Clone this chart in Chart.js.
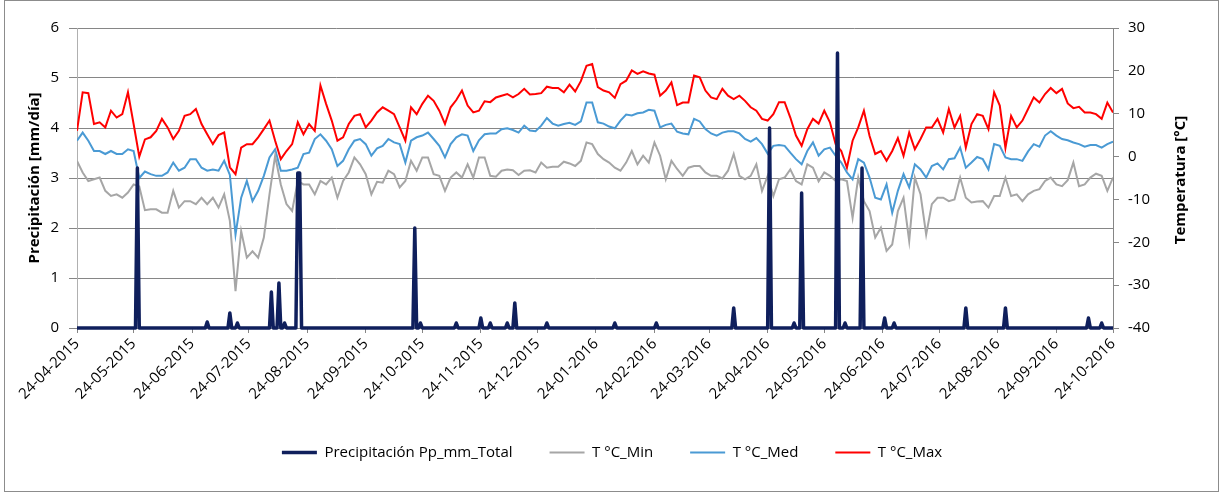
<!DOCTYPE html>
<html>
<head>
<meta charset="utf-8">
<title>Precipitación y temperatura</title>
<script src="https://cdn.jsdelivr.net/npm/chart.js@4.4.1/dist/chart.umd.min.js"></script>
<style>
  html, body { margin: 0; padding: 0; background: #fff; }
  #wrap { position: relative; width: 1224px; height: 494px; }
  #frame { position: absolute; left: 4px; top: 0; width: 1215px; height: 492px; border: 1px solid #8c8c8c; box-sizing: border-box; pointer-events: none; }
</style>
</head>
<body>
<div id="wrap">
  <canvas id="chart" width="1224" height="494"></canvas>
  <div id="frame"></div>
</div>
<script>
"use strict";

// x axis: days since 24-04-2015, one tick per month
var monthDays = [0, 30, 61, 91, 122, 153, 183, 214, 244, 275, 306, 335, 366, 396, 427, 457, 488, 519, 549];
var monthLabels = ['24-04-2015', '24-05-2015', '24-06-2015', '24-07-2015', '24-08-2015', '24-09-2015',
    '24-10-2015', '24-11-2015', '24-12-2015', '24-01-2016', '24-02-2016', '24-03-2016', '24-04-2016',
    '24-05-2016', '24-06-2016', '24-07-2016', '24-08-2016', '24-09-2016', '24-10-2016'];
var lastDay = 549;

// Precipitation (mm/day): days with rain, all other days are 0
var rainDays = [32, 69, 81, 85, 103, 107, 110, 117, 118, 179, 182, 201, 214, 219, 228, 232, 249, 285, 307,
    348, 367, 380, 384, 403, 407, 416, 428, 433, 471, 492, 536, 543];
var rainMm = [3.2, 0.12, 0.3, 0.1, 0.72, 0.9, 0.1, 3.1, 3.1, 2.0, 0.1, 0.1, 0.2, 0.1, 0.1, 0.5, 0.1, 0.1, 0.1,
    0.4, 4.0, 0.1, 2.7, 5.5, 0.1, 3.2, 0.2, 0.1, 0.4, 0.4, 0.2, 0.1];

// Temperatures (°C), read every 3 days starting at day 0
var tempStep = 3;
var tMin = [
    -1, -3.7, -5.7, -5.3, -4.9, -8, -9.2, -8.8, -9.6, -8.4,
    -6.5, -7, -12.5, -12.3, -12.3, -13.1, -13.1, -8, -11.9, -10.4,
    -10.4, -11.1, -9.6, -11.1, -9.6, -11.9, -8.8, -15, -31.4, -17.4,
    -23.6, -22.1, -23.6, -18.9, -8.8, 0.2, -6.5, -11.1, -12.7, -5.7,
    -6.5, -6.5, -8.8, -5.7, -6.5, -4.9, -9.6, -5.7, -3.7, -0.2,
    -1.8, -4.1, -8.8, -5.9, -6.1, -3.3, -4.1, -7.2, -5.7, -1,
    -3.3, -0.2, -0.2, -4.1, -4.5, -8, -4.9, -3.7, -4.9, -1.8,
    -4.9, -0.2, -0.2, -4.5, -4.7, -3.3, -3, -3.2, -4.3, -3.3,
    -3.2, -3.7, -1.4, -2.6, -2.4, -2.4, -1.2, -1.6, -2.2, -1,
    3.3, 2.9, 0.6, -0.6, -1.4, -2.6, -3.3, -1.4, 1.3, -1.8,
    0.2, -1.4, 3.3, 0.2, -5.3, -1, -2.9, -4.5, -2.6, -2.2,
    -2.2, -3.7, -4.5, -4.5, -5.1, -3.3, 0.6, -4.5, -5.3, -4.5,
    -1.8, -8, -4.5, -9.2, -5.3, -4.9, -3, -5.7, -6.5, -1.8,
    -2.6, -5.8, -3.7, -4.5, -5.7, -5.3, -5.7, -14.3, -4.9, -10.4,
    -12.7, -18.9, -16.6, -22, -20.5, -12.7, -9.6, -19.7, -4.9, -8.8,
    -18.2, -11.1, -9.6, -9.6, -10.4, -10, -4.9, -9.6, -10.7, -10.5,
    -10.4, -11.9, -9.2, -9.2, -4.9, -9.2, -8.8, -10.4, -8.8, -8,
    -7.6, -5.7, -4.9, -6.5, -6.9, -5.5, -1.4, -6.9, -6.5, -4.9,
    -4, -4.5, -8, -4.9
];
var tMed = [
    3.7, 5.6, 3.7, 1.3, 1.3, 0.6, 1.3, 0.6, 0.6, 1.7,
    1.3, -5, -3.5, -4.1, -4.5, -4.5, -3.7, -1.4, -3.3, -2.6,
    -0.6, -0.6, -2.6, -3.3, -3, -3.3, -1, -4.3, -18.2, -9.6,
    -5.7, -10.4, -8, -4.5, -0.2, 1.7, -3.3, -3.3, -3, -2.6,
    0.6, 0.9, 4.1, 5.2, 3.7, 1.7, -2.2, -1, 1.7, 3.7,
    4.1, 2.9, 0.2, 1.9, 2.5, 4.1, 3.3, 2.9, -1.4, 3.7,
    4.5, 4.9, 5.6, 4.1, 2.5, -0.2, 2.9, 4.5, 5.2, 4.9,
    1.3, 3.8, 5.2, 5.4, 5.4, 6.4, 6.6, 6.2, 5.6, 7.2,
    6.1, 5.9, 7.2, 9, 7.7, 7.2, 7.6, 7.9, 7.4, 8.2,
    12.6, 12.6, 8, 7.7, 7, 6.6, 8.4, 9.8, 9.6, 10.1,
    10.3, 10.9, 10.7, 6.8, 7.4, 7.7, 5.8, 5.4, 5.2, 8.8,
    8.2, 6.4, 5.4, 4.9, 5.6, 5.9, 5.9, 5.4, 4.1, 3.5,
    4.3, 2.9, 0.7, 2.5, 2.7, 2.5, 0.9, -0.6, -1.8, 1.3,
    3.3, 0.2, 1.7, 2.1, 0.2, -1.4, -3.7, -5.3, -0.6, -1.4,
    -4.9, -9.6, -10, -6.5, -13.1, -8, -4.1, -7.2, -1.8, -3,
    -4.9, -2.2, -1.6, -3, -0.6, -0.4, 2.1, -2.6, -1.4, -0.1,
    -0.6, -3, 2.9, 2.5, -0.2, -0.6, -0.6, -1, 1.2, 2.9,
    2.3, 4.9, 5.9, 4.9, 4.1, 3.8, 3.3, 2.9, 2.3, 2.7,
    2.7, 2.1, 2.9, 3.5
];
var tMax = [
    6, 15, 14.8, 7.6, 8, 6.8, 10.7, 9.1, 9.9, 15,
    7.6, 0, 4, 4.5, 6, 8.8, 6.8, 4.1, 6, 9.5,
    9.9, 11.1, 7.6, 5.2, 2.9, 5, 5.6, -2.5, -4.1, 2.1,
    2.9, 2.9, 4.5, 6.4, 8.4, 3.7, -0.6, 1.3, 2.9, 8,
    5.2, 7.6, 6, 16.6, 12.3, 8.4, 3.7, 4.5, 7.6, 9.5,
    9.9, 6.8, 8.4, 10.3, 11.5, 10.7, 9.9, 6.8, 3.7, 11.5,
    9.9, 12.3, 14.2, 13, 10.7, 7.6, 11.5, 13.2, 15.4, 11.9,
    10.3, 10.7, 12.9, 12.7, 13.8, 14.2, 14.6, 13.8, 14.6, 15.8,
    14.5, 14.6, 14.8, 16.3, 16, 16, 15, 16.8, 15.2, 17.6,
    21.2, 21.6, 16.2, 15.4, 15, 13.7, 16.9, 17.7, 20.1, 19.3,
    19.9, 19.4, 19.1, 14.2, 15.4, 17.3, 12, 12.6, 12.6, 18.9,
    18.5, 15.4, 13.8, 13.4, 15.8, 14.2, 13.4, 14.2, 13, 11.5,
    10.7, 8.8, 8.4, 9.9, 12.7, 12.7, 9.1, 4.9, 2.5, 6.4,
    8.8, 7.7, 10.7, 8, 2.9, 1.3, -2.6, 3.7, 6.8, 10.7,
    4.8, 0.6, 1.3, -1, 1.3, 4.3, 0.2, 5.6, 1.7, 4.1,
    6.8, 6.8, 8.8, 5.6, 11.1, 6.8, 9.5, 2.1, 7.6, 9.9,
    9.5, 6.4, 15, 11.9, 2, 9.5, 6.8, 8.4, 11.1, 13.8,
    12.6, 14.6, 16, 14.8, 15.8, 12.4, 11.3, 11.6, 10.3, 10.3,
    9.9, 8.8, 12.6, 10.3
];

var leftTitle = 'Precipitación [mm/día]';
var rightTitle = 'Temperatura [°C]';

var PrecipTempChart = function () {
    var fontFamily = '"Open Sans", "Liberation Sans", sans-serif';
    var gridColor = '#868686';

    var toPoints = function (values) {
        return values.map(function (v, i) {
            return { x: i * tempStep, y: v };
        });
    };

    var rainPoints = function () {
        var pts = [];
        for (var d = 0; d <= lastDay; d++) {
            var k = rainDays.indexOf(d);
            pts.push({ x: d, y: k >= 0 ? rainMm[k] : 0 });
        }
        return pts;
    };

    // Axis titles, both read bottom to top
    var axisTitles = {
        id: 'axisTitles',
        afterDraw: function (chart) {
            var ctx = chart.ctx;
            var area = chart.chartArea;
            var midY = (area.top + area.bottom) / 2;
            ctx.save();
            ctx.font = 'bold 15px ' + fontFamily;
            ctx.fillStyle = '#000';
            ctx.textAlign = 'center';
            ctx.textBaseline = 'middle';
            ctx.translate(35, midY);
            ctx.rotate(-Math.PI / 2);
            ctx.fillText(leftTitle, 0, 0);
            ctx.restore();
            ctx.save();
            ctx.font = 'bold 15px ' + fontFamily;
            ctx.fillStyle = '#000';
            ctx.textAlign = 'center';
            ctx.textBaseline = 'middle';
            ctx.translate(1181, midY + 2);
            ctx.rotate(-Math.PI / 2);
            ctx.fillText(rightTitle, 0, 0);
            ctx.restore();
        }
    };

    var initChart = function () {
        var ctx = document.getElementById('chart').getContext('2d');
        Chart.defaults.font.family = fontFamily;
        Chart.defaults.color = '#000';

        new Chart(ctx, {
            type: 'line',
            data: {
                datasets: [{
                    label: 'Precipitación Pp_mm_Total',
                    data: rainPoints(),
                    yAxisID: 'y',
                    borderColor: '#0f1f5c',
                    backgroundColor: '#0f1f5c',
                    borderWidth: 3.5,
                    borderJoinStyle: 'round',
                    pointRadius: 0,
                    clip: false
                }, {
                    label: 'T °C_Min',
                    data: toPoints(tMin),
                    yAxisID: 'y1',
                    borderColor: '#a6a6a6',
                    backgroundColor: '#a6a6a6',
                    borderWidth: 2,
                    pointRadius: 0
                }, {
                    label: 'T °C_Med',
                    data: toPoints(tMed),
                    yAxisID: 'y1',
                    borderColor: '#4a9ad4',
                    backgroundColor: '#4a9ad4',
                    borderWidth: 2,
                    pointRadius: 0
                }, {
                    label: 'T °C_Max',
                    data: toPoints(tMax),
                    yAxisID: 'y1',
                    borderColor: '#ff0000',
                    backgroundColor: '#ff0000',
                    borderWidth: 2,
                    pointRadius: 0
                }]
            },
            options: {
                responsive: false,
                animation: false,
                devicePixelRatio: 1,
                layout: { padding: { top: 28, bottom: 24, left: 0, right: 0 } },
                scales: {
                    x: {
                        type: 'linear',
                        min: 0,
                        max: lastDay,
                        afterBuildTicks: function (scale) {
                            scale.ticks = monthDays.map(function (d) { return { value: d }; });
                        },
                        afterFit: function (scale) { scale.height = 80; },
                        ticks: {
                            autoSkip: false,
                            minRotation: 45,
                            maxRotation: 45,
                            padding: 2,
                            font: { size: 15 },
                            callback: function (value, index) { return monthLabels[index]; }
                        },
                        grid: { drawOnChartArea: false, tickLength: 5, color: gridColor },
                        border: { display: false }
                    },
                    y: {
                        position: 'left',
                        min: 0,
                        max: 6,
                        afterFit: function (scale) { scale.width = 77; },
                        ticks: { stepSize: 1, padding: 10, font: { size: 15 } },
                        grid: { color: gridColor, tickLength: 8 },
                        border: { color: '#b0b0b0' }
                    },
                    y1: {
                        position: 'right',
                        min: -40,
                        max: 30,
                        afterFit: function (scale) { scale.width = 111; },
                        ticks: { stepSize: 10, padding: 9, font: { size: 15 } },
                        grid: { drawOnChartArea: false, color: gridColor, tickLength: 6 },
                        border: { color: gridColor }
                    }
                },
                plugins: {
                    legend: {
                        position: 'bottom',
                        labels: {
                            usePointStyle: true,
                            pointStyle: 'line',
                            pointStyleWidth: 35,
                            boxWidth: 35,
                            padding: 37,
                            font: { size: 15 },
                            color: '#000'
                        }
                    },
                    tooltip: { enabled: false }
                }
            },
            plugins: [axisTitles]
        });
    };

    return {
        init: function () {
            initChart();
        }
    };
}();

document.addEventListener('DOMContentLoaded', function () {
    PrecipTempChart.init();
});
</script>
</body>
</html>
